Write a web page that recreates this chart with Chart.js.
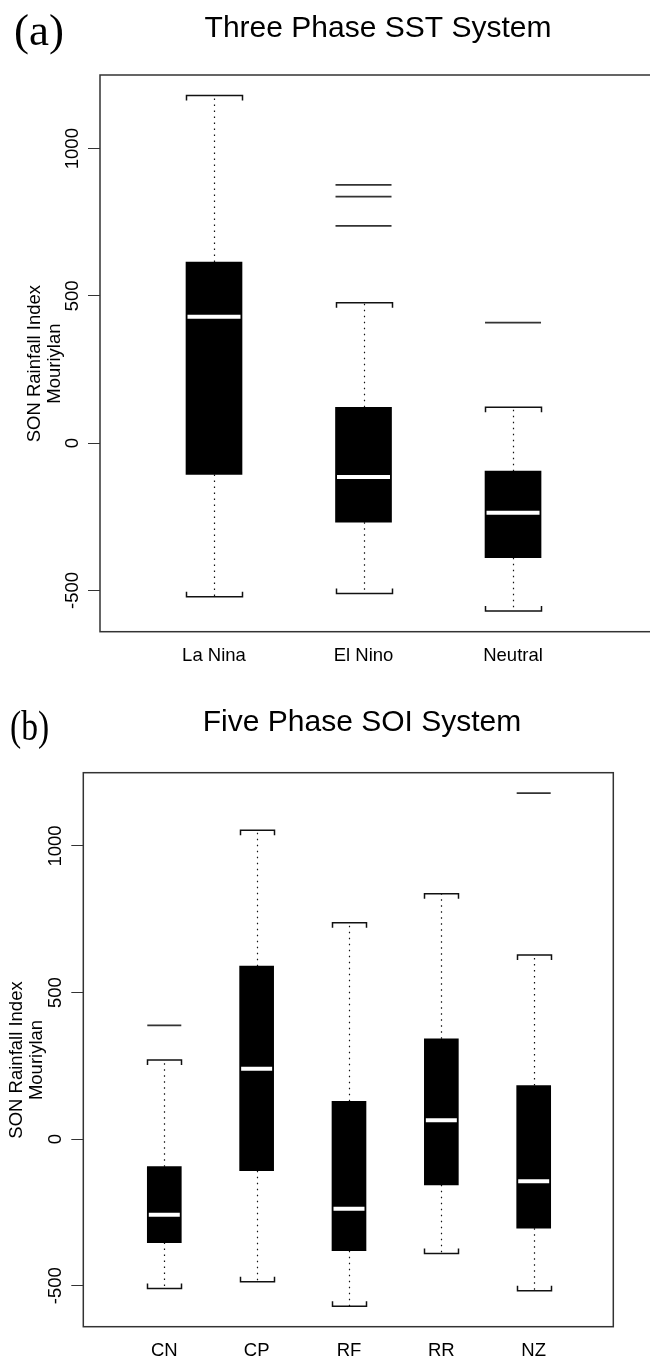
<!DOCTYPE html>
<html>
<head>
<meta charset="utf-8">
<script src="https://cdn.jsdelivr.net/npm/chart.js@4.4.0/dist/chart.umd.min.js"></script>
<style>
  html, body { margin: 0; padding: 0; width: 650px; height: 1360px; overflow: hidden; background: #fff; }
  .panel { position: absolute; left: 0; width: 650px; overflow: hidden; }
  .tag { position: absolute; font-family: "Liberation Serif", serif; color: #000; line-height: 1; white-space: nowrap; }
</style>
</head>
<body>
<div class="panel" style="top:0;height:680px"><canvas id="sst" width="756" height="680"></canvas></div>
<div class="panel" style="top:680px;height:680px"><canvas id="soi" width="724" height="680"></canvas></div>
<div class="tag" style="left:14px;top:8px;font-size:45px">(a)</div>
<div class="tag" style="left:10px;top:705px;font-size:42px;transform:scaleX(0.8);transform-origin:left top">(b)</div>
<script>
// panel (a) - three phase SST
var sstCats = ['La Nina', 'El Nino', 'Neutral'];
var sstLo  = [-521, -510, -570];
var sstQ1  = [-106, -268, -389];
var sstMed = [429, -115, -236];
var sstQ3  = [615, 122, -95];
var sstHi  = [1180, 477, 122];
var sstOut = [[], [877, 837, 738], [409]];

// panel (b) - five phase SOI
var soiCats = ['CN', 'CP', 'RF', 'RR', 'NZ'];
var soiLo  = [-510, -487, -570, -390, -517];
var soiQ1  = [-353, -108, -381, -156, -304];
var soiMed = [-258, 240, -238, 64, -144];
var soiQ3  = [-94, 590, 129, 342, 183];
var soiHi  = [270, 1054, 738, 837, 628];
var soiOut = [[388], [], [], [], [1180]];

var yTicks = [-500, 0, 500, 1000];
var Y_MIN = -640, Y_MAX = 1250;

var axisFont = { family: 'Liberation Sans', size: 18.5 };

function outlierPoints(out) {
  var pts = [];
  out.forEach(function (vals, i) {
    vals.forEach(function (v) { pts.push({ x: i + 1, y: v }); });
  });
  return pts;
}

// whiskers, staples and the frame round the plot
var boxExtras = {
  id: 'boxExtras',
  beforeDatasetsDraw: function (chart, args, o) {
    var x = chart.scales.x, y = chart.scales.y, ctx = chart.ctx;
    var half = o.boxPx / 2;
    ctx.save();
    ctx.strokeStyle = '#111';
    for (var i = 0; i < o.lo.length; i++) {
      var cx = Math.round(x.getPixelForValue(i + 1)) + 0.5;
      var yh = y.getPixelForValue(o.hi[i]), yl = y.getPixelForValue(o.lo[i]);
      ctx.lineWidth = 1.2;
      ctx.setLineDash([1.5, 4.5]);
      ctx.beginPath();
      ctx.moveTo(cx, y.getPixelForValue(o.q3[i]));
      ctx.lineTo(cx, yh);
      ctx.moveTo(cx, y.getPixelForValue(o.q1[i]));
      ctx.lineTo(cx, yl);
      ctx.stroke();
      ctx.setLineDash([]);
      ctx.lineWidth = 1.5;
      ctx.beginPath();
      ctx.moveTo(cx - half, yh + 5); ctx.lineTo(cx - half, yh);
      ctx.lineTo(cx + half, yh); ctx.lineTo(cx + half, yh + 5);
      ctx.moveTo(cx - half, yl - 5); ctx.lineTo(cx - half, yl);
      ctx.lineTo(cx + half, yl); ctx.lineTo(cx + half, yl - 5);
      ctx.stroke();
    }
    ctx.restore();
  },
  afterDraw: function (chart) {
    var a = chart.chartArea, ctx = chart.ctx;
    ctx.save();
    ctx.strokeStyle = '#333';
    ctx.lineWidth = 1.5;
    ctx.strokeRect(a.left, a.top, a.right - a.left, a.bottom - a.top);
    ctx.restore();
  }
};

function boxChart(id, c) {
  var cats = c.cats;
  var half = c.boxPx / 2;
  return new Chart(document.getElementById(id), {
    type: 'bar',
    data: {
      datasets: [
        {
          type: 'bar',
          data: cats.map(function (n, i) { return { x: i + 1, y: [c.q1[i], c.q3[i]] }; }),
          backgroundColor: '#000',
          borderWidth: 0,
          barThickness: c.boxPx,
          grouped: false,
          order: 2
        },
        {
          type: 'scatter',
          data: cats.map(function (n, i) { return { x: i + 1, y: c.med[i] }; }),
          pointStyle: 'line',
          pointRadius: half - 1.5,
          pointBorderColor: '#fff',
          pointBorderWidth: 4,
          order: 1
        },
        {
          type: 'scatter',
          data: outlierPoints(c.out),
          pointStyle: 'line',
          pointRadius: half,
          pointBorderColor: '#333',
          pointBorderWidth: 1.8,
          order: 1
        }
      ]
    },
    options: {
      responsive: false,
      animation: false,
      events: [],
      layout: { padding: 0 },
      plugins: {
        legend: { display: false },
        tooltip: { enabled: false },
        title: {
          display: true,
          text: c.title,
          color: '#000',
          font: { family: 'Liberation Sans', size: 30, weight: 'normal' },
          padding: { top: c.titleTop, bottom: c.titleBottom }
        },
        boxExtras: { lo: c.lo, hi: c.hi, q1: c.q1, q3: c.q3, boxPx: c.boxPx }
      },
      scales: {
        x: {
          type: 'linear',
          min: c.xMin,
          max: c.xMax,
          offset: false,
          grid: { display: false, drawTicks: false },
          border: { display: false },
          afterBuildTicks: function (s) {
            s.ticks = cats.map(function (n, i) { return { value: i + 1 }; });
          },
          afterFit: function (s) { s.height = c.xAxisH; },
          ticks: {
            color: '#000',
            padding: 13,
            minRotation: 0,
            maxRotation: 0,
            autoSkip: false,
            font: axisFont,
            callback: function (v) { return cats[v - 1]; }
          }
        },
        y: {
          type: 'linear',
          min: Y_MIN,
          max: Y_MAX,
          grid: { drawOnChartArea: false, drawTicks: true, tickLength: 12, color: '#333', lineWidth: 1 },
          border: { display: false },
          afterBuildTicks: function (s) {
            s.ticks = yTicks.map(function (v) { return { value: v }; });
          },
          afterFit: function (s) { s.width = c.yAxisW; },
          ticks: {
            color: '#000',
            minRotation: 90,
            maxRotation: 90,
            crossAlign: 'center',
            padding: -5.5,
            font: axisFont,
            callback: function (v) { return String(v); }
          },
          title: {
            display: true,
            // trailing blanks nudge the centred label a little down, as in the original
            text: ['SON Rainfall Index    ', 'Mouriylan    '],
            color: '#000',
            font: { family: 'Liberation Sans', size: 18.5, lineHeight: 1.05 },
            padding: { top: c.yTitlePad, bottom: 0 }
          }
        },
        pad: {
          type: 'linear',
          position: 'right',
          display: true,
          grid: { display: false },
          border: { display: false },
          ticks: { display: false },
          afterFit: function (s) { s.width = c.padW; }
        }
      }
    },
    plugins: [boxExtras]
  });
}

boxChart('sst', {
  cats: sstCats, lo: sstLo, q1: sstQ1, med: sstMed, q3: sstQ3, hi: sstHi, out: sstOut,
  title: 'Three Phase SST System',
  boxPx: 56, xMin: 0.2375, xMax: 3.963,
  yAxisW: 100, padW: 99, xAxisH: 48.3,
  titleTop: 11, titleBottom: 28, yTitlePad: 25.3
});

boxChart('soi', {
  cats: soiCats, lo: soiLo, q1: soiQ1, med: soiMed, q3: soiQ3, hi: soiHi, out: soiOut,
  title: 'Five Phase SOI System',
  boxPx: 34, xMin: 0.123, xMax: 5.862,
  yAxisW: 83.3, padW: 110.7, xAxisH: 33.3,
  titleTop: 25, titleBottom: 31.7, yTitlePad: 7.3
});
</script>
</body>
</html>
